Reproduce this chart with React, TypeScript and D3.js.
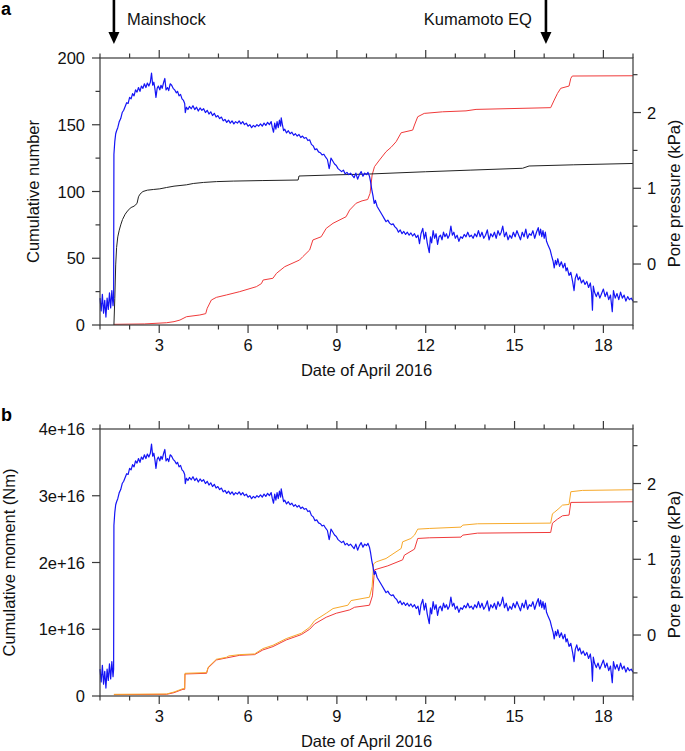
import React from 'react';
import * as d3 from 'd3';

const W = 685, H = 751;
const FONT = '"Liberation Sans", Arial, Helvetica, sans-serif';

const xMajor = [3, 6, 9, 12, 15, 18];
const xMinor = [1, 2, 4, 5, 7, 8, 10, 11, 13, 14, 16, 17, 19];
const numMajor = [0, 50, 100, 150, 200];
const numMinor = [25, 75, 125, 175];
const momMajor = [0, 1e16, 2e16, 3e16, 4e16];
const momLabels = ['0', '1e+16', '2e+16', '3e+16', '4e+16'];
const ppMajor = [0, 1, 2];
const ppMinor = [-0.5, 0.5, 1.5, 2.5];

// Pore pressure (kPa): [day of April 2016, value]
const porePressure: [number, number][] = [
  [1.00,-0.45],[1.04,-0.62],[1.08,-0.40],[1.12,-0.65],[1.16,-0.48],[1.20,-0.70],[1.24,-0.45],[1.28,-0.60],[1.32,-0.38],[1.36,-0.58],[1.40,-0.35],[1.44,-0.55],[1.46,-0.45],
  [1.47,1.45],[1.50,1.62],[1.53,1.72],[1.56,1.76],[1.60,1.80],[1.65,1.88],[1.70,1.92],[1.75,2.00],[1.80,2.03],[1.85,2.08],[1.90,2.13],[1.95,2.12],[2.00,2.20],[2.05,2.18],[2.10,2.25],[2.15,2.22],[2.20,2.30],[2.25,2.27],[2.30,2.33],[2.35,2.28],[2.40,2.35],[2.45,2.32],[2.50,2.38],[2.55,2.33],[2.60,2.39],[2.65,2.35],[2.70,2.40],[2.74,2.52],[2.78,2.36],[2.82,2.40],[2.86,2.30],[2.89,2.20],[2.93,2.32],[2.97,2.35],[3.02,2.30],[3.06,2.36],[3.10,2.32],[3.15,2.40],[3.19,2.45],[3.23,2.30],[3.28,2.33],[3.32,2.29],[3.37,2.38],[3.42,2.36],[3.47,2.32],[3.52,2.30],[3.58,2.26],[3.62,2.28],[3.67,2.22],[3.72,2.24],[3.77,2.18],[3.82,2.16],[3.86,2.12],[3.88,2.00],[3.92,2.07],[3.97,2.04],[4.02,2.08],[4.08,2.05],[4.14,2.09],[4.20,2.04],[4.26,2.07],[4.32,2.02],[4.38,2.06],[4.44,2.03],[4.50,2.05],[4.56,2.00],[4.62,2.03],[4.68,1.98],[4.74,2.01],[4.80,1.96],[4.86,1.99],[4.92,1.94],[4.98,1.96],[5.04,1.92],[5.10,1.94],[5.16,1.89],[5.22,1.91],[5.28,1.87],[5.34,1.90],[5.40,1.86],[5.46,1.89],[5.52,1.85],[5.58,1.88],[5.64,1.86],[5.70,1.89],[5.76,1.85],[5.82,1.88],[5.88,1.84],[5.94,1.86],[6.00,1.82],[6.06,1.84],[6.12,1.80],[6.18,1.83],[6.24,1.81],[6.30,1.84],[6.36,1.82],[6.42,1.85],[6.48,1.82],[6.54,1.86],[6.60,1.83],[6.66,1.87],[6.72,1.84],[6.78,1.88],[6.82,1.80],[6.86,1.74],[6.90,1.86],[6.94,1.78],[6.98,1.88],[7.02,1.80],[7.06,1.90],[7.10,1.82],[7.12,1.93],[7.16,1.84],[7.20,1.76],[7.24,1.78],[7.30,1.73],[7.36,1.76],[7.42,1.72],[7.48,1.74],[7.54,1.70],[7.60,1.72],[7.66,1.69],[7.72,1.71],[7.78,1.67],[7.84,1.69],[7.90,1.66],[7.96,1.67],[8.02,1.63],[8.08,1.64],[8.14,1.58],[8.20,1.56],[8.26,1.51],[8.32,1.52],[8.38,1.48],[8.44,1.47],[8.50,1.44],[8.56,1.45],[8.62,1.41],[8.68,1.38],[8.74,1.26],[8.76,1.30],[8.80,1.40],[8.86,1.36],[8.92,1.32],[8.98,1.30],[9.04,1.26],[9.10,1.24],[9.16,1.22],[9.22,1.24],[9.28,1.19],[9.34,1.21],[9.40,1.18],[9.46,1.20],[9.52,1.17],[9.58,1.14],[9.64,1.20],[9.70,1.12],[9.76,1.18],[9.82,1.22],[9.88,1.16],[9.94,1.20],[10.00,1.18],[10.05,1.21],[10.10,1.16],[10.14,1.08],[10.18,0.98],[10.22,0.90],[10.26,0.80],[10.30,0.84],[10.36,0.76],[10.42,0.72],[10.48,0.68],[10.54,0.64],[10.60,0.60],[10.66,0.56],[10.72,0.58],[10.78,0.54],[10.84,0.52],[10.90,0.53],[10.96,0.49],[11.02,0.47],[11.08,0.42],[11.14,0.45],[11.20,0.40],[11.26,0.43],[11.32,0.39],[11.38,0.42],[11.44,0.38],[11.50,0.41],[11.56,0.37],[11.62,0.40],[11.68,0.35],[11.74,0.38],[11.79,0.27],[11.84,0.40],[11.90,0.47],[11.95,0.33],[12.00,0.42],[12.05,0.28],[12.12,0.15],[12.16,0.36],[12.20,0.28],[12.25,0.44],[12.30,0.34],[12.35,0.40],[12.40,0.26],[12.45,0.36],[12.50,0.38],[12.55,0.32],[12.60,0.42],[12.65,0.36],[12.70,0.40],[12.75,0.34],[12.80,0.38],[12.85,0.50],[12.90,0.38],[12.95,0.42],[13.00,0.34],[13.06,0.38],[13.12,0.30],[13.18,0.36],[13.24,0.34],[13.30,0.39],[13.36,0.36],[13.42,0.42],[13.48,0.36],[13.54,0.38],[13.60,0.34],[13.66,0.40],[13.72,0.36],[13.78,0.44],[13.84,0.36],[13.90,0.42],[13.96,0.34],[14.02,0.38],[14.08,0.45],[14.14,0.32],[14.20,0.40],[14.26,0.36],[14.32,0.42],[14.38,0.34],[14.44,0.44],[14.50,0.38],[14.55,0.42],[14.60,0.50],[14.66,0.36],[14.72,0.42],[14.78,0.32],[14.84,0.38],[14.90,0.34],[14.96,0.42],[15.02,0.36],[15.08,0.44],[15.14,0.38],[15.20,0.32],[15.26,0.42],[15.32,0.36],[15.38,0.46],[15.44,0.34],[15.50,0.40],[15.56,0.38],[15.62,0.44],[15.68,0.34],[15.74,0.42],[15.80,0.48],[15.84,0.38],[15.88,0.46],[15.92,0.36],[15.96,0.44],[16.00,0.34],[16.04,0.42],[16.08,0.30],[16.14,0.24],[16.20,0.19],[16.25,0.11],[16.30,0.04],[16.34,-0.05],[16.38,0.05],[16.42,-0.01],[16.46,0.07],[16.52,-0.03],[16.58,0.03],[16.64,-0.05],[16.70,0.01],[16.74,-0.09],[16.78,-0.05],[16.84,-0.15],[16.90,-0.11],[16.96,-0.23],[17.01,-0.35],[17.05,-0.19],[17.10,-0.13],[17.15,-0.21],[17.20,-0.17],[17.26,-0.25],[17.32,-0.21],[17.38,-0.27],[17.44,-0.23],[17.50,-0.31],[17.56,-0.25],[17.60,-0.37],[17.63,-0.61],[17.66,-0.29],[17.70,-0.37],[17.76,-0.43],[17.82,-0.37],[17.88,-0.45],[17.94,-0.39],[18.00,-0.33],[18.06,-0.43],[18.12,-0.37],[18.18,-0.47],[18.24,-0.41],[18.30,-0.63],[18.34,-0.35],[18.40,-0.45],[18.46,-0.39],[18.52,-0.47],[18.58,-0.37],[18.64,-0.45],[18.70,-0.41],[18.76,-0.49],[18.82,-0.43],[18.88,-0.47],[18.94,-0.45],[19.00,-0.49],
];

// Cumulative number (black)
const cumNumberBlack: [number, number][] = [
  [1.47,0],[1.50,20],[1.53,45],[1.56,58],[1.60,66],[1.65,71],[1.70,75],[1.76,79],[1.85,83],[1.95,86],[2.05,88],[2.15,89],[2.25,91],[2.30,96],[2.35,98],[2.45,100],[2.60,101],[2.80,101.5],[3.02,102],[3.25,103],[3.50,104],[3.92,105],[4.15,106],[4.50,106.8],[4.93,107.4],[5.50,107.8],[6.50,108.2],[7.69,108.6],[7.72,111.6],[8.87,112.4],[10.1,113.1],[12.0,114.8],[13.5,116],[15.27,117.4],[15.49,119.1],[17.0,120],[19.0,121],
];

// Cumulative number (red)
const cumNumberRed: [number, number][] = [
  [1.47,0.5],[2.5,0.8],[3.25,1.7],[3.5,2.5],[3.70,3.7],[3.92,6.2],[4.37,7.5],[4.57,8.5],[4.62,12.5],[4.76,18.7],[4.93,20.7],[5.27,22.5],[5.72,25],[6.28,28.7],[6.45,31],[6.51,33.7],[6.84,35],[6.96,38.7],[7.24,43.7],[7.74,48.7],[7.85,51.2],[8.08,56.2],[8.19,63.7],[8.47,66.1],[8.64,72.4],[8.87,76.2],[9.31,81.1],[9.43,86.1],[9.65,91.2],[9.85,93],[10.04,94],[10.12,98.6],[10.19,112.4],[10.27,118.6],[10.44,123.6],[10.66,129.8],[10.83,133.1],[11.0,137.3],[11.17,144],[11.56,146],[11.62,149.8],[11.73,156],[11.95,158.5],[12.57,159.7],[13.36,160.4],[13.7,161.5],[16.22,162.8],[16.34,168.5],[16.45,173.5],[16.56,177.3],[16.84,179],[16.9,184.8],[16.95,186.5],[19.0,186.7],
];

// Cumulative moment (units of 1e16 Nm), orange
const momentOrange: [number, number][] = [
  [1.47,0.025],[3.25,0.03],[3.5,0.06],[3.8,0.11],[3.86,0.11],[3.87,0.34],[4.6,0.35],[4.65,0.43],[4.93,0.55],[5.27,0.58],[5.35,0.6],[5.72,0.62],[6.22,0.63],[6.5,0.71],[6.84,0.76],[7.29,0.86],[7.8,0.94],[8.08,1.03],[8.25,1.13],[8.64,1.24],[8.87,1.31],[9.37,1.36],[9.48,1.43],[10.1,1.48],[10.19,1.64],[10.24,1.98],[10.33,2.01],[10.66,2.06],[11.17,2.21],[11.22,2.31],[11.5,2.36],[11.62,2.41],[11.73,2.50],[12.12,2.51],[13.19,2.53],[13.25,2.56],[13.75,2.58],[16.22,2.59],[16.28,2.73],[16.34,2.75],[16.5,2.81],[16.62,2.86],[16.84,2.87],[16.9,3.06],[17.29,3.08],[19.0,3.09],
];

// Cumulative moment (units of 1e16 Nm), red
const momentRed: [number, number][] = [
  [1.47,0.02],[3.25,0.025],[3.5,0.05],[3.8,0.1],[3.86,0.1],[3.87,0.33],[4.6,0.34],[4.65,0.42],[4.93,0.54],[5.27,0.57],[5.72,0.61],[6.22,0.62],[6.5,0.69],[6.84,0.74],[7.29,0.84],[7.8,0.92],[8.08,1.0],[8.25,1.08],[8.64,1.18],[8.98,1.24],[9.43,1.29],[9.6,1.33],[10.1,1.36],[10.2,1.5],[10.27,1.89],[10.72,1.95],[11.22,2.04],[11.28,2.11],[11.62,2.20],[11.73,2.36],[12.12,2.37],[13.19,2.38],[13.25,2.41],[13.75,2.44],[16.22,2.45],[16.28,2.59],[16.45,2.65],[16.62,2.70],[16.84,2.71],[16.9,2.90],[19.0,2.91],
];

const events = [
  { day: 1.47, label: 'Mainshock', anchor: 'start' },
  { day: 16.06, label: 'Kumamoto EQ', anchor: 'end' },
];

const X0 = 100, X1 = 633;
const AX = '#3a3a3a';
const BLUE = '#1414f5';
const RED = '#f03a3a';
const ORANGE = '#f7a92a';
const FS = 16.5;

type Series = { data: [number, number][]; color: string; width: number; axis: 'L' | 'R'; scale?: number };

function Panel(props: {
  top: number; bottom: number; leftDomain: [number, number];
  leftMajor: number[]; leftMinor: number[]; leftLabels: string[];
  leftTitle: string; leftTitleX: number; series: Series[];
}) {
  const { top, bottom } = props;
  const x = d3.scaleLinear().domain([1, 19]).range([X0, X1]);
  const yL = d3.scaleLinear().domain(props.leftDomain).range([bottom, top]);
  const yR = d3.scaleLinear().domain([-0.805, 2.72]).range([bottom, top]);
  const midY = (top + bottom) / 2;
  const fs = FS;
  return (
    <g>
      {props.series.map((s, i) => {
        const yy = s.axis === 'L' ? yL : yR;
        const k = s.scale ?? 1;
        const line = d3.line<[number, number]>().x(d => x(d[0])).y(d => yy(d[1] * k));
        return <path key={i} d={line(s.data) || ''} fill="none" stroke={s.color} strokeWidth={s.width} strokeLinejoin="round" />;
      })}
      <rect x={X0} y={top} width={X1 - X0} height={bottom - top} fill="none" stroke={AX} strokeWidth={1.2} />
      {xMajor.map(d => (
        <g key={'M' + d}>
          <line x1={x(d)} x2={x(d)} y1={bottom} y2={bottom + 8} stroke={AX} strokeWidth={1.2} />
          <line x1={x(d)} x2={x(d)} y1={top} y2={top - 8} stroke={AX} strokeWidth={1.2} />
          <text x={x(d)} y={bottom + 26} textAnchor="middle" fontSize={fs} fontFamily={FONT} fill="#111">{d}</text>
        </g>
      ))}
      {xMinor.map(d => (
        <g key={'m' + d}>
          <line x1={x(d)} x2={x(d)} y1={bottom} y2={bottom + 4.5} stroke={AX} strokeWidth={1.2} />
          <line x1={x(d)} x2={x(d)} y1={top} y2={top - 4.5} stroke={AX} strokeWidth={1.2} />
        </g>
      ))}
      <text x={(X0 + X1) / 2} y={bottom + 51} textAnchor="middle" fontSize={fs} fontFamily={FONT} fill="#111">Date of April 2016</text>
      {props.leftMajor.map((v, i) => (
        <g key={'L' + v}>
          <line x1={X0 - 8} x2={X0} y1={yL(v)} y2={yL(v)} stroke={AX} strokeWidth={1.2} />
          <text x={X0 - 15} y={yL(v) + 6} textAnchor="end" fontSize={fs} fontFamily={FONT} fill="#111">{props.leftLabels[i]}</text>
        </g>
      ))}
      {props.leftMinor.map(v => (
        <line key={'l' + v} x1={X0 - 4.5} x2={X0} y1={yL(v)} y2={yL(v)} stroke={AX} strokeWidth={1.2} />
      ))}
      <text transform={`translate(${props.leftTitleX},${midY}) rotate(-90)`} textAnchor="middle" fontSize={fs} fontFamily={FONT} fill="#111">{props.leftTitle}</text>
      {ppMajor.map(v => (
        <g key={'R' + v}>
          <line x1={X1} x2={X1 + 8} y1={yR(v)} y2={yR(v)} stroke={AX} strokeWidth={1.2} />
          <text x={X1 + 14} y={yR(v) + 6} textAnchor="start" fontSize={fs} fontFamily={FONT} fill="#111">{v}</text>
        </g>
      ))}
      {ppMinor.map(v => (
        <line key={'r' + v} x1={X1} x2={X1 + 4.5} y1={yR(v)} y2={yR(v)} stroke={AX} strokeWidth={1.2} />
      ))}
      <text transform={`translate(680,${midY + 2}) rotate(-90)`} textAnchor="middle" fontSize={fs} fontFamily={FONT} fill="#111">Pore pressure (kPa)</text>
    </g>
  );
}

export default function App() {
  const x = d3.scaleLinear().domain([1, 19]).range([X0, X1]);
  return (
    <svg width={W} height={H} style={{ position: 'absolute', left: 0, top: 0, background: '#fff' }}>
      <rect width={W} height={H} fill="#fff" />
      <text x={1} y={15} fontSize={18} fontWeight="bold" fontFamily={FONT} fill="#000">a</text>
      <text x={1} y={421} fontSize={18} fontWeight="bold" fontFamily={FONT} fill="#000">b</text>
      {events.map(e => {
        const ex = x(e.day);
        return (
          <g key={e.label}>
            <line x1={ex} x2={ex} y1={0} y2={34} stroke="#000" strokeWidth={2.6} />
            <polygon points={`${ex - 5.5},${32} ${ex + 5.5},${32} ${ex},${44}`} fill="#000" />
            <text x={e.anchor === 'start' ? ex + 13 : ex - 14} y={25} textAnchor={e.anchor as any} fontSize={FS} fontFamily={FONT} fill="#111">{e.label}</text>
          </g>
        );
      })}
      <Panel
        top={58} bottom={325} leftDomain={[0, 200]}
        leftMajor={numMajor} leftMinor={numMinor} leftLabels={numMajor.map(String)}
        leftTitle="Cumulative number" leftTitleX={39}
        series={[
          { data: cumNumberRed, color: RED, width: 1, axis: 'L' },
          { data: cumNumberBlack, color: '#222', width: 1, axis: 'L' },
          { data: porePressure, color: BLUE, width: 1.2, axis: 'R' },
        ]}
      />
      <Panel
        top={429} bottom={696} leftDomain={[0, 4e16]}
        leftMajor={momMajor} leftMinor={[]} leftLabels={momLabels}
        leftTitle="Cumulative moment (Nm)" leftTitleX={15}
        series={[
          { data: momentRed, color: RED, width: 1, axis: 'L', scale: 1e16 },
          { data: momentOrange, color: ORANGE, width: 1, axis: 'L', scale: 1e16 },
          { data: porePressure, color: BLUE, width: 1.2, axis: 'R' },
        ]}
      />
    </svg>
  );
}
